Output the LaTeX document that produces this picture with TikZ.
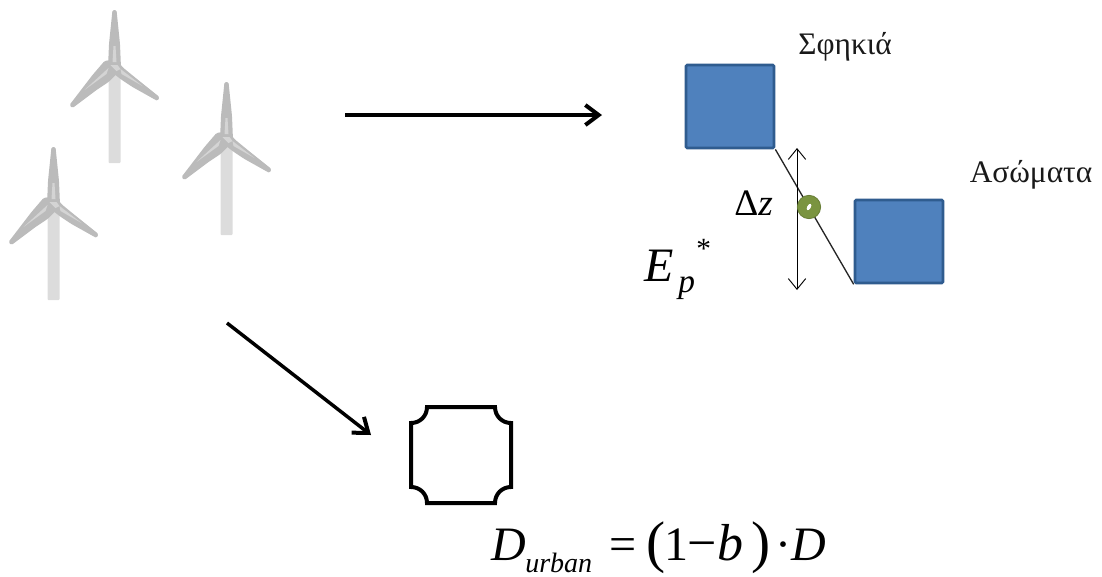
\documentclass[tikz,border=0pt]{standalone}
\usepackage{fontspec}
\setmainfont{Liberation Serif}
\usetikzlibrary{arrows.meta}
\definecolor{bladegray}{HTML}{BBBBBB}
\definecolor{bladelight}{HTML}{D4D4D4}
\definecolor{towergray}{HTML}{DCDCDC}
\definecolor{boxfill}{HTML}{4F81BD}
\definecolor{boxline}{HTML}{2F5C8F}
\definecolor{ballgreen}{HTML}{7A9440}
\tikzset{
  x=0.75pt,y=-0.75pt,
  bigarrow/.style={line width=2.6pt,-{Straight Barb[length=10pt,width=15pt,line width=3pt]}},
  thinarrow/.style={line width=0.7pt,{Straight Barb[length=8pt,width=13pt]}-{Straight Barb[length=8pt,width=13pt]}},
  bluebox/.style={fill=boxfill,draw=boxline,line width=2pt,rounded corners=1pt},
  greek/.style={font=\fontsize{23.5pt}{26pt}\selectfont,inner sep=0pt,text=black!90},
  eqn/.style={inner sep=0pt,anchor=base west},
  eqbig/.style={eqn,font=\fontsize{36pt}{40pt}\selectfont},
  eqit/.style={eqn,font=\fontsize{36pt}{40pt}\selectfont\itshape},
  eqparen/.style={eqn,font=\fontsize{43pt}{46pt}\selectfont},
  tower/.style={fill=towergray,rounded corners=0.6pt},
  blade/.style={fill=bladegray,rounded corners=1pt},
  bladehi/.style={fill=bladelight},
  plaque/.style={draw=black,line width=3pt,line join=miter}
}
\newcommand{\windmill}[2]{%
  \begin{scope}[shift={(#1,#2)}]
    \path[tower] (-6,5) rectangle (6,97);
    \path[blade] (-2,-56) -- (2,-56) -- (5.5,-22) -- (6.5,2) -- (-6.5,2) -- (-5.5,-22) -- cycle;
    \path[blade] (-45,39) -- (-42,42) -- (-18,24) -- (-6,16) -- (3,7) -- (-4,-6) -- (-10,-5) -- (-22,9) -- cycle;
    \path[blade] (43,35) -- (45,31) -- (20,11) -- (9,2) -- (1,-7) -- (-4,5) -- (6,13) -- (18,21) -- cycle;
    \path[bladehi] (-1,-20) -- (1,-20) -- (2,-4) -- (-2,-4) -- cycle;
    \path[bladehi] (-4,-1) -- (3,-1) -- (6,3) -- (2,5) -- cycle;
    \path[bladehi] (-6,2) -- (-30,24) -- (-8,8) -- cycle;
    \path[bladehi] (6,3) -- (28,20) -- (7,8) -- cycle;
  \end{scope}}
\begin{document}
\begin{tikzpicture}
\useasboundingbox (0,0) rectangle (1102,576);
% wind turbines
\windmill{114.5}{66}
\windmill{226.5}{138}
\windmill{53.5}{203}
% big arrows
\coordinate (a1s) at (345,115);
\coordinate (a1e) at (602,115);
\coordinate (a2s) at (227,323);
\coordinate (a2e) at (371,435);
\draw[bigarrow] (a1s) -- (a1e);
\draw[bigarrow] (a2s) -- (a2e);
% reservoirs
\node[bluebox,inner sep=0pt] (upper) at (730,106.5) {\tikz\path (0,0) rectangle (88,-83);};
\node[bluebox,inner sep=0pt] (lower) at (899,241.5) {\tikz\path (0,0) rectangle (88,-83);};
\draw[line width=1pt,black!85] (upper.south east) -- (lower.south west);
\coordinate (dzt) at (797,148);
\coordinate (dzb) at (797,290);
\draw[thinarrow] (dzt) -- (dzb);
\node[circle,fill=ballgreen,draw=ballgreen!85!black,line width=0.6pt,minimum size=17.5pt,inner sep=0pt] (ball) at (809,207) {};
\path[fill=white,rotate around={60:(ball.center)}] (ball.center) ellipse (3.5 and 1.8);
% labels
\node[greek] (sf) at (845,47) {Σφηκιά};
\node[greek] (as) at (1031,175) {Ασώματα};
\node[eqn,font=\fontsize{28pt}{30pt}\selectfont] (dz) at (734,215) {Δ\textit{z}};
\node[eqn,font=\fontsize{36pt}{40pt}\selectfont\itshape] (ep) at (644,281) {E};
\node[eqn,font=\fontsize{25pt}{28pt}\selectfont\itshape] (epp) at (678,292) {p};
\node[eqn,font=\fontsize{22pt}{24pt}\selectfont] (eps) at (696,258) {*};
% plaque
\draw[plaque] (427,407) -- (495,407)
  .. controls (495,416) and (502,423) .. (511,423) -- (511,487)
  .. controls (502,487) and (495,494) .. (495,503) -- (427,503)
  .. controls (427,494) and (420,487) .. (411,487) -- (411,423)
  .. controls (420,423) and (427,416) .. (427,407) -- cycle;
% formula
\node[eqit] (fD) at (491,560) {D};
\node[eqn,font=\fontsize{21pt}{24pt}\selectfont\itshape] (furban) at (525,572) {urban};
\node[eqbig] (feq) at (609,560) {=};
\node[eqparen] (fl) at (646,561) {(};
\node[eqbig] (fone) at (664,560) {1};
\node[eqbig,font=\fontsize{39pt}{40pt}\selectfont] (fminus) at (687,560) {−};
\node[eqit,font=\fontsize{39pt}{40pt}\selectfont\itshape] (fb) at (717,560) {b};
\node[eqparen] (fr) at (751,561) {)};
\node[eqbig] (fdot) at (775,560) {·};
\node[eqit] (fD2) at (791,560) {D};
\end{tikzpicture}
\end{document}
